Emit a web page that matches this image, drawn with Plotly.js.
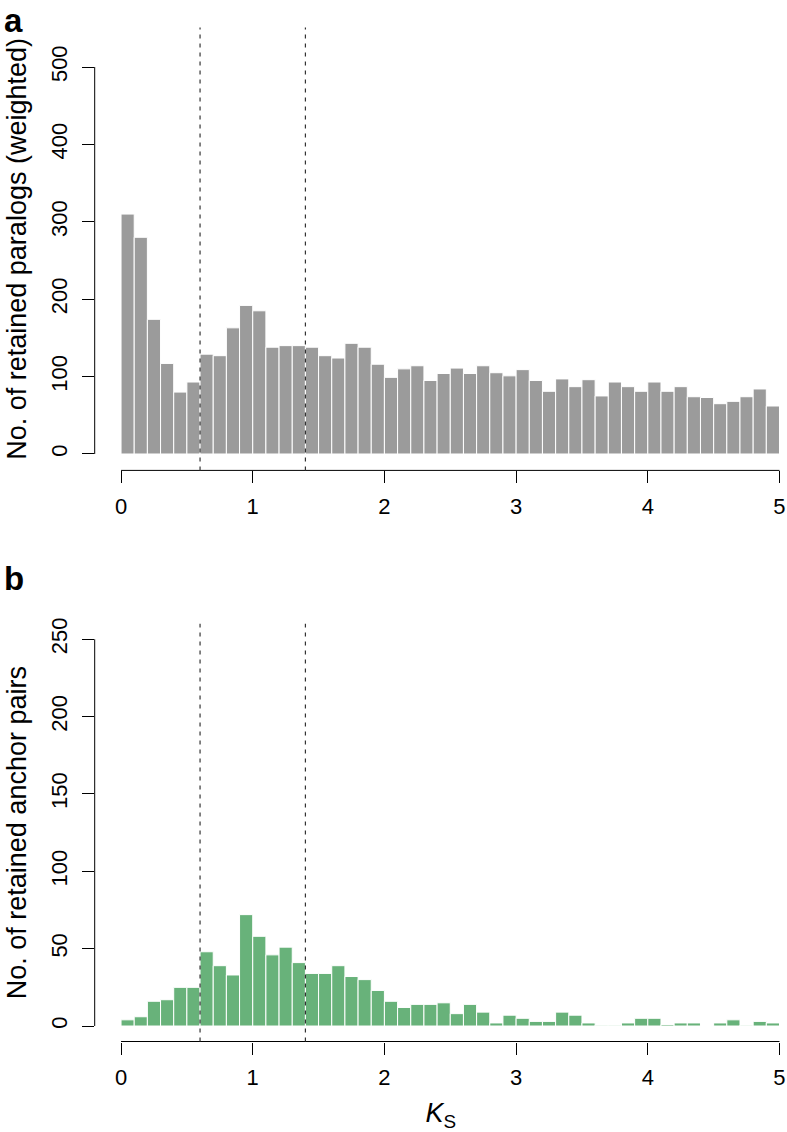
<!DOCTYPE html>
<html><head><meta charset="utf-8">
<script src="https://cdn.plot.ly/plotly-3.0.1.min.js"></script>
<style>html,body{margin:0;padding:0;background:#fff}#chart{width:787px;height:1132px}</style>
</head><body><div id="chart"></div>
<script>
// Ks bins: 50 bins of width 0.1 from 0 to 5
const binEdgeStart = 0;
const binWidth = 0.1;
const nBins = 50;
const ksCenters = Array.from({length: nBins}, (_, i) => +(binEdgeStart + binWidth * (i + 0.5)).toFixed(2));

// panel a: retained paralogs (weighted)
const paralogs = [310,280,174,117,80,93,129,127,163,192,185,138,140,140,138,127,124,143,138,116,
                  99,110,114,95,104,111,104,114,105,101,109,95,81,97,87,96,75,93,87,81,
                  93,81,87,74,73,65,68,74,84,62];
// panel b: retained anchor pairs
const anchors = [4,6,16,17,25,25,48,39,33,72,58,46,51,41,34,34,39,32,30,23,
                 16,12,14,14,15,8,14,9,2,7,5,3,3,9,7,2,0.5,0.5,2,5,
                 5,1,2,2,0,2,4,0.5,3,2];

const xTicks = [0,1,2,3,4,5];
const yTicksA = [0,100,200,300,400,500];
const yTicksB = [0,50,100,150,200,250];
const cutoffs = [0.6, 1.4];
const titleA = 'No. of retained paralogs (weighted)';
const titleB = 'No. of retained anchor pairs';
const xTitle = '<i>K</i><sub>S</sub>';
const panelLabels = ['a', 'b'];

const W = 787, H = 1132;
const FONT = 'Liberation Sans, Arial, Helvetica, sans-serif';
const xDomain = [94.7 / W, 1];
const xRange = [-0.2, 5.057];
const domA = [1 - 470.4 / H, 1 - 27.4 / H];
const domB = [1 - 1041.5 / H, 1 - 623.8 / H];

const traces = [
  {type: 'bar', x: ksCenters, y: paralogs, width: binWidth, xaxis: 'x', yaxis: 'y',
   marker: {color: '#9b9b9b', line: {color: '#ffffff', width: 1}}, hoverinfo: 'x+y'},
  {type: 'bar', x: ksCenters, y: anchors, width: binWidth, xaxis: 'x2', yaxis: 'y2',
   marker: {color: '#68b27a', line: {color: '#ffffff', width: 1}}, hoverinfo: 'x+y'}
];

function xAxis(anchor, title) {
  const ax = {domain: xDomain, range: xRange, anchor: anchor, tickvals: xTicks, ticktext: xTicks.map(String),
    ticks: 'outside', ticklen: 12, tickwidth: 1, tickcolor: '#000', showline: false, showgrid: false,
    zeroline: false, tickfont: {family: FONT, size: 22, color: '#000'}, ticklabelstandoff: 4};
  if (title) ax.title = {text: title, font: {family: FONT, size: 27, color: '#000'}, standoff: 14};
  return ax;
}
function yAxis(anchor, dom, range, ticks, title) {
  return {domain: dom, range: range, anchor: anchor, tickvals: ticks, ticktext: ticks.map(String),
    ticks: 'outside', ticklen: 12, tickwidth: 1, tickcolor: '#000', tickangle: -90,
    showline: false, showgrid: false, zeroline: false,
    tickfont: {family: FONT, size: 22, color: '#000'}, ticklabelstandoff: 6,
    title: {text: title, font: {family: FONT, size: 27, color: '#000'}, standoff: 12}};
}

const shapes = [];
function axisLines(xa, ya, dom, yTicks) {
  shapes.push({type: 'line', xref: 'paper', yref: ya, x0: xDomain[0], x1: xDomain[0],
    y0: yTicks[0], y1: yTicks[yTicks.length - 1], line: {color: '#000', width: 1}});
  shapes.push({type: 'line', xref: xa, yref: 'paper', x0: xTicks[0], x1: xTicks[xTicks.length - 1],
    y0: dom[0], y1: dom[0], line: {color: '#000', width: 1}});
  cutoffs.forEach(c => shapes.push({type: 'line', xref: xa, yref: ya + ' domain', x0: c, x1: c,
    y0: 0, y1: 1, line: {color: '#333', width: 1.2, dash: '4px,5px'}}));
}
axisLines('x', 'y', domA, yTicksA);
axisLines('x2', 'y2', domB, yTicksB);

const layout = {
  width: W, height: H, margin: {l: 0, r: 0, t: 0, b: 0},
  paper_bgcolor: '#fff', plot_bgcolor: '#fff', showlegend: false, bargap: 0,
  font: {family: FONT, color: '#000'},
  xaxis: xAxis('y'), yaxis: yAxis('x', domA, [-21.2, 551.2], yTicksA, titleA),
  xaxis2: xAxis('y2', xTitle), yaxis2: yAxis('x2', domB, [-10, 260], yTicksB, titleB),
  shapes: shapes,
  annotations: [
    {text: '<b>' + panelLabels[0] + '</b>', xref: 'paper', yref: 'paper', x: 0.002, y: 1, xanchor: 'left', yanchor: 'top',
     showarrow: false, font: {family: FONT, size: 33, color: '#000'}},
    {text: '<b>' + panelLabels[1] + '</b>', xref: 'paper', yref: 'paper', x: 0.002, y: 1 - 558 / H, xanchor: 'left', yanchor: 'top',
     showarrow: false, font: {family: FONT, size: 33, color: '#000'}}
  ]
};

Plotly.newPlot('chart', traces, layout, {displayModeBar: false, staticPlot: true});
</script></body></html>
